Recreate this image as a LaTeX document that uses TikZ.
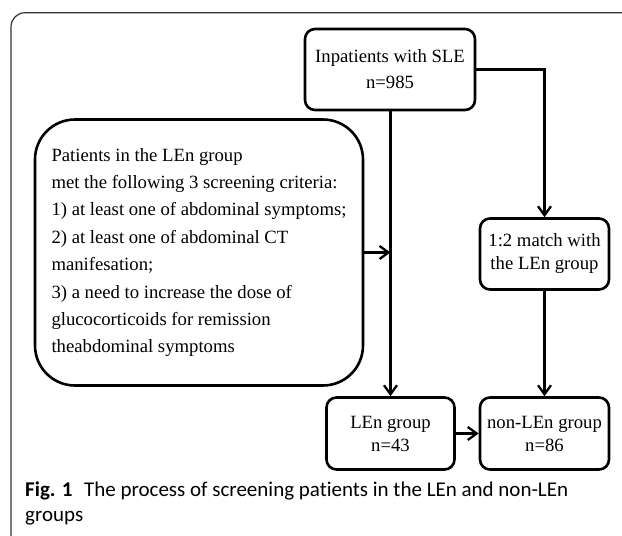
\documentclass[tikz,border=0pt]{standalone}
\usepackage{fontspec}
\setmainfont{Liberation Serif}
\newfontfamily\capfont[Ligatures=NoCommon]{Carlito}
\usetikzlibrary{arrows.meta}

\begin{document}
\begin{tikzpicture}[x=1pt,y=-1pt,node distance=154pt,
    >={Straight Barb[length=9pt,width=13pt]},
    main/.style = {draw, line width=2.6pt, rounded corners=10pt, align=center,
        font=\fontsize{18.7}{23}\selectfont, inner sep=2pt}]
    \useasboundingbox (0,0) rectangle (622,536);
    % panel frame
    \draw[black!80, line width=1.2pt, rounded corners=14pt] (11,536) -- (11,12.7) -- (622,12.7);
    \node[main, minimum width=170pt, minimum height=81pt, font=\fontsize{18.7}{26}\selectfont] (1) at (390,69.5) {Inpatients with SLE\\n=985};
    \node[main, rounded corners=40pt, minimum width=328pt, minimum height=266pt, align=left,
        font=\fontsize{18.7}{27.4}\selectfont] (2) at (199,252.5)
        {Patients in the LEn group\\
         met the following 3 screening criteria:\\
         1) at least one of abdominal symptoms;\\
         2) at least one of abdominal CT\\
         manifesation;\\
         3) a need to increase the dose of\\
         glucocorticoids for remission\\
         theabdominal symptoms};
    \node[main, minimum width=128pt, minimum height=72pt] (4) at (390.5,433.5) {LEn group\\n=43};
    \node[main, minimum width=129pt, minimum height=72pt] (5) [right of=4] {non-LEn group\\n=86};
    \node[main, minimum width=129pt, minimum height=71pt, node distance=179.5pt] (3) [above of=5] {1:2 match with\\the LEn group};
    \coordinate (6) at (2.east -| 4.north);
    \path[->, line width=2.3pt]
        (4.north |- 1.south) edge (4)
        (2) edge (6)
        (3) edge (5)
        (4) edge (5);
    \draw[->, line width=2.3pt] (1) -| (3);
    % caption
    \node[anchor=base west, align=left, inner sep=0pt, font=\capfont\fontsize{21}{25}\selectfont] (7) at (25,521)
        {\textbf{Fig. 1}\hspace{0.55em}The process of screening patients in the LEn and non-LEn\\groups};
\end{tikzpicture}
\end{document}
